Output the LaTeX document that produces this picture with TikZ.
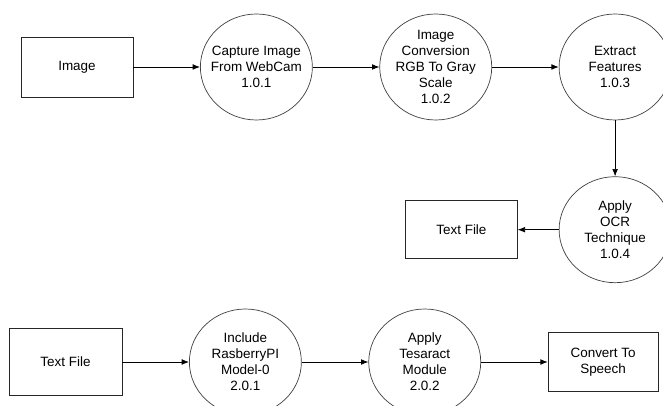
\documentclass[tikz,border=0pt]{standalone}
\usepackage{fontspec}
\setmainfont{Liberation Sans}
\usepackage{tikz}
\usetikzlibrary{shapes.geometric, arrows.meta, positioning}
\newcommand{\dfdfont}{\fontsize{11.5}{13.6}\selectfont}

\begin{document}
\begin{tikzpicture}[
  node distance=1.68cm and 2.0cm,
  process/.style={ellipse, draw=black!75, line width=0.6pt,
                  minimum width=3.36cm, minimum height=3.18cm,
                  inner xsep=-8pt, inner ysep=-3pt, align=center,
                  font=\dfdfont},
  entity/.style={rectangle, draw=black!85, line width=0.6pt,
                 minimum width=3.36cm, minimum height=1.8cm,
                 align=center, font=\dfdfont},
  arrow/.style={-{Latex[length=2.2mm, width=1.7mm]}, line width=0.6pt}
]
\useasboundingbox (0,0) rectangle (19.89,12.15);

% Fila superior
\node[entity] (img) at (2.31,10.14) {Image};
\node[process, right=of img] (p1) {Capture Image\\From WebCam\\1.0.1};
\node[process, right=of p1]  (p2) {Image\\Conversion\\RGB To Gray\\Scale\\1.0.2};
\node[process, right=of p2]  (p3) {Extract\\Features\\1.0.3};
\node[process, below=of p3]  (p4) {Apply\\OCR\\Technique\\1.0.4};
\node[entity, left=1.23cm of p4, minimum height=1.74cm] (txt1) {Text File};

% Fila inferior
\node[entity, minimum width=3.39cm, minimum height=2.01cm]
      (txt2) at (1.965,1.29) {Text File};
\node[process, right=of txt2] (p5) {Include\\RasberryPI\\Model-0\\2.0.1};
\node[process, right=of p5]   (p6) {Apply\\Tesaract\\Module\\2.0.2};
\node[entity, right=of p6, minimum width=3.3cm, minimum height=1.77cm]
      (spch) {Convert To\\Speech};

% Flechas
\draw[arrow] (img) -- (p1);
\draw[arrow] (p1)  -- (p2);
\draw[arrow] (p2)  -- (p3);
\draw[arrow] (p3)  -- (p4);
\draw[arrow] (p4)  -- (txt1);
\draw[arrow] (txt2) -- (p5);
\draw[arrow] (p5)  -- (p6);
\draw[arrow] (p6)  -- (spch);
\end{tikzpicture}
\end{document}
